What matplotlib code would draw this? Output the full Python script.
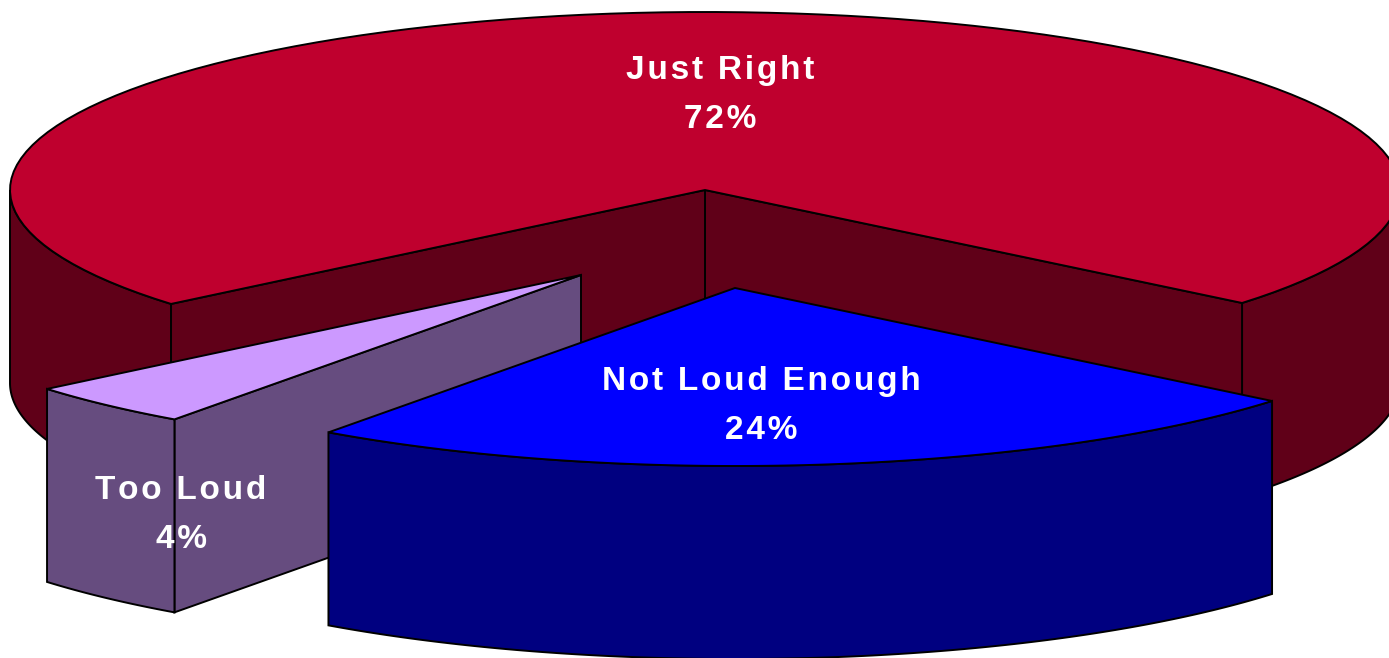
import numpy as np
import matplotlib
matplotlib.use("Agg")
import matplotlib.pyplot as plt
from matplotlib.patches import Polygon

labels = ["Just Right", "Too Loud", "Not Loud Enough"]
shares = [72, 4, 24]
top_colors = ["#BF002E", "#CC99FF", "#0000FF"]
side_colors = ["#600018", "#664C7F", "#000080"]

# pie geometry, in pixels of the picture
cx, cy = 705, 190
rx, ry = 695, 178
depth = 193
start = -39.4
# how far each slice is pulled out of the pie
offsets = [(0, 0), (-124, 85), (30, 98)]
label_pos = [(720, 95), (181, 515), (761, 406)]

plt.rcParams["font.family"] = ["Liberation Sans", "DejaVu Sans"]
fig = plt.figure(figsize=(13.89, 6.58), dpi=100)
ax = fig.add_axes([0, 0, 1, 1])
ax.set_xlim(0, 1389)
ax.set_ylim(658, 0)
ax.axis("off")


def arc(t0, t1, ox, oy, n=120):
    t = np.radians(np.linspace(t0, t1, n))
    return np.column_stack([ox + rx * np.cos(t), oy - ry * np.sin(t)])


def face(pts, color, z):
    ax.add_patch(Polygon(pts, closed=True, facecolor=color, edgecolor="black",
                         linewidth=1.4, joinstyle="miter", zorder=z))


def rim(t0, t1, ox, oy, color, z):
    a = arc(t0, t1, ox, oy)
    face(np.vstack([a, a[::-1] + [0, depth]]), color, z)


def cut(t, ox, oy, color, z):
    edge = arc(t, t, ox, oy, 1)[0]
    apex = np.array([ox, oy])
    face([apex, edge, edge + [0, depth], apex + [0, depth]], color, z)


# slice angles come from the shares
spans = np.array(shares) * 3.6
ends = start + np.cumsum(spans)
starts = ends - spans

for i, (t0, t1) in enumerate(zip(starts, ends)):
    ox, oy = cx + offsets[i][0], cy + offsets[i][1]
    z = i * 10
    if i == 0:
        # big slice wraps round the back, two bits of rim show
        rim(t0, 0, ox, oy, side_colors[i], z)
        rim(180, t1, ox, oy, side_colors[i], z)
        cut(t0, ox, oy, side_colors[i], z + 1)
        cut(t1, ox, oy, side_colors[i], z + 1)
    else:
        if i == 1:
            cut(t1, ox, oy, side_colors[i], z + 1)
        rim(t0, t1, ox, oy, side_colors[i], z + 2)
    face(np.vstack([[ox, oy], arc(t0, t1, ox, oy)]), top_colors[i], z + 3)

for name, share, pos in zip(labels, shares, label_pos):
    # the original has wide letter spacing, hair spaces get close to it
    spaced = "\u200a".join(name)
    pct = "\u200a".join(f"{share}%")
    ax.text(pos[0], pos[1], f"{spaced}\n{pct}", color="white", fontsize=24,
            fontweight="bold", ha="center", va="center", linespacing=1.72, zorder=50)

fig.savefig("out.png", dpi=100)
